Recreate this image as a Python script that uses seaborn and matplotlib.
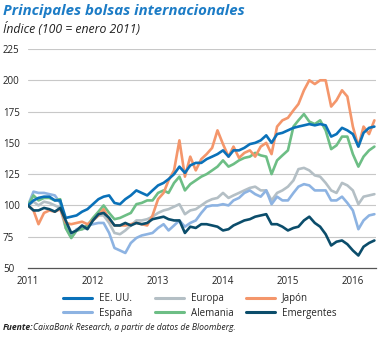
import numpy as np
import pandas as pd
import matplotlib
matplotlib.use("Agg")
import matplotlib.pyplot as plt
import seaborn as sns
from matplotlib.lines import Line2D

# ---- data (monthly readings, Jan 2011 .. May 2016) ----
fechas = pd.date_range("2011-01-01", periods=65, freq="MS")

eeuu = [100, 104, 106, 107, 107, 104, 104, 90, 91, 92, 95, 97,
        101, 105, 107, 108, 102, 101, 105, 108, 112, 110, 108, 112,
        116, 118, 121, 125, 131, 126, 132, 134, 134, 137, 139, 141,
        144, 139, 144, 144, 146, 149, 150, 152, 156, 150, 157, 158,
        160, 162, 163, 164, 165, 164, 165, 164, 155, 157, 162, 160,
        157, 147, 158, 162, 163]
espana = [100, 111, 110, 110, 109, 108, 102, 85, 75, 81, 82, 84,
          85, 86, 86, 78, 66, 64, 62, 70, 74, 76, 77, 78,
          82, 85, 80, 84, 88, 83, 86, 88, 94, 99, 100, 100,
          101, 100, 104, 106, 110, 112, 109, 107, 112, 101, 107, 104,
          104, 110, 115, 117, 116, 112, 112, 112, 104, 104, 107, 102,
          96, 81, 88, 92, 93]
europa = [100, 103, 100, 103, 102, 100, 98, 82, 74, 80, 81, 82,
          88, 92, 92, 86, 78, 77, 80, 84, 88, 88, 89, 91,
          94, 96, 97, 99, 101, 93, 96, 97, 100, 103, 105, 106,
          110, 106, 108, 110, 112, 114, 115, 112, 112, 104, 110, 112,
          115, 120, 129, 130, 128, 124, 123, 118, 112, 110, 118, 116,
          112, 101, 107, 108, 109]
alemania = [100, 108, 104, 106, 106, 104, 105, 82, 74, 80, 81, 84,
            90, 95, 100, 94, 89, 90, 92, 94, 101, 102, 104, 104,
            110, 112, 110, 118, 123, 112, 117, 120, 123, 125, 128, 131,
            136, 131, 133, 136, 138, 139, 142, 140, 139, 125, 136, 140,
            144, 163, 168, 173, 167, 165, 168, 160, 145, 148, 155, 155,
            141, 131, 139, 144, 147]
japon = [100, 96, 85, 94, 96, 95, 97, 86, 85, 86, 87, 85,
         88, 92, 97, 89, 84, 84, 84, 85, 86, 85, 84, 92,
         105, 110, 120, 128, 152, 123, 139, 128, 137, 141, 146, 160,
         149, 139, 147, 138, 142, 144, 139, 147, 150, 141, 163, 168,
         170, 176, 181, 192, 200, 197, 200, 200, 179, 184, 192, 187,
         163, 147, 163, 157, 168]
emergentes = [100, 96, 96, 98, 97, 95, 98, 88, 78, 80, 84, 81,
              88, 93, 94, 90, 84, 84, 86, 84, 86, 85, 86, 89,
              90, 91, 89, 88, 88, 78, 83, 82, 85, 85, 84, 83,
              80, 81, 84, 86, 88, 89, 91, 92, 93, 85, 85, 83,
              80, 82, 83, 88, 91, 86, 83, 77, 68, 71, 72, 69,
              64, 60, 67, 70, 72]

series = ["EE. UU.", "España", "Europa", "Alemania", "Japón", "Emergentes"]
valores = [eeuu, espana, europa, alemania, japon, emergentes]
colores = {"EE. UU.": "#0a71b9", "España": "#8db3e2", "Europa": "#b4bfc5",
           "Alemania": "#6dbe85", "Japón": "#f4966b", "Emergentes": "#0b4d6b"}
orden_dibujo = ["Europa", "España", "Alemania", "Japón", "EE. UU.", "Emergentes"]
yticks = [50, 75, 100, 125, 150, 175, 200, 225]
years = [2011, 2012, 2013, 2014, 2015, 2016]

df = pd.concat([pd.DataFrame({"fecha": fechas, "valor": v, "serie": s})
                for s, v in zip(series, valores)], ignore_index=True)

sns.set_style("white")
plt.rcParams["font.family"] = ["Open Sans", "DejaVu Sans"]

fig = plt.figure(figsize=(3.79, 3.38), dpi=100)
ax = fig.add_axes([28/379, 1-268/338, (376-28)/379, (268-49)/338])

for z, s in enumerate(orden_dibujo):
    sns.lineplot(data=df[df["serie"] == s], x="fecha", y="valor",
                 color=colores[s], lw=1.9, ax=ax, zorder=3+z, legend=False)

ax.set_xlim(pd.Timestamp("2011-01-01"), pd.Timestamp("2016-05-10"))
ax.set_ylim(50, 225)
ax.set_yticks(yticks)
ax.set_yticklabels([str(v) for v in yticks])
ax.set_xticks([pd.Timestamp(f"{y}-01-01") for y in years])
ax.set_xticklabels([str(y) for y in years])
ax.set_xlabel("")
ax.set_ylabel("")
for y in yticks[1:]:
    ax.axhline(y, color="#c8c8c8", lw=0.8, zorder=1)
for sp in ["top", "right", "left"]:
    ax.spines[sp].set_visible(False)
ax.spines["bottom"].set_color("#555555")
ax.spines["bottom"].set_linewidth(0.9)
ax.tick_params(axis="y", length=0, labelsize=7, pad=18, colors="#222222")
ax.tick_params(axis="x", length=3, width=0.8, color="#555555", labelsize=7, pad=3,
               colors="#222222")
for lab in ax.get_yticklabels():
    lab.set_horizontalalignment("left")

# legend: three columns placed explicitly
cols = [(["EE. UU.", "España"], 63), (["Europa", "Alemania"], 155), (["Japón", "Emergentes"], 246)]
for names, x0 in cols:
    handles = [Line2D([0], [0], color=colores[n], lw=2.2) for n in names]
    fig.legend(handles, names, loc="upper left", bbox_to_anchor=(x0/379, 1-293/338),
               frameon=False, fontsize=7, handlelength=3.0, handletextpad=0.7,
               labelspacing=0.4, borderpad=0, borderaxespad=0)

fig.text(3/379, 1-11/338, "Principales bolsas internacionales", fontsize=10.8,
         fontweight="bold", fontstyle="italic", color="#1c7cc6", va="center", ha="left")
fig.text(3/379, 1-29/338, "Índice (100 = enero 2011)", fontsize=8.8,
         fontstyle="italic", color="#222222", va="center", ha="left")
fig.text(3/379, 1-328/338, "Fuente:", fontsize=6.2, fontweight="bold",
         fontstyle="italic", color="#222222", va="center", ha="left")
fig.text(33/379, 1-328/338, "CaixaBank Research, a partir de datos de Bloomberg.",
         fontsize=6.2, fontstyle="italic", color="#222222", va="center", ha="left")

fig.savefig("out.png", dpi=100, facecolor="white")
